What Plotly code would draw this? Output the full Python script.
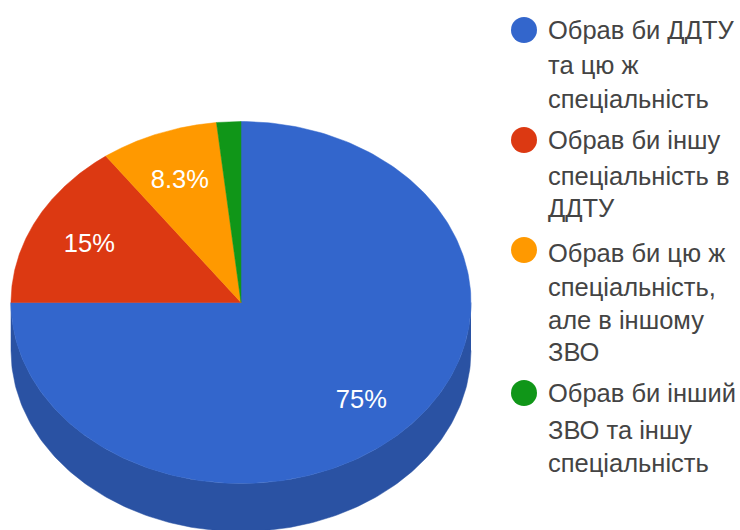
import numpy as np
import plotly.graph_objects as go

# Data
categories = ["Обрав би ДДТУ", "Обрав би іншу", "Обрав би цю ж", "Обрав би інший"]
values = [75, 15, 8.3, 1.7]
slice_labels = ["75%", "15%", "8.3%", ""]
legend_lines = [
    ["Обрав би ДДТУ", "та цю ж", "спеціальність"],
    ["Обрав би іншу", "спеціальність в", "ДДТУ"],
    ["Обрав би цю ж", "спеціальність,", "але в іншому", "ЗВО"],
    ["Обрав би інший", "ЗВО та іншу", "спеціальність"],
]

# Style
colors = ["#3366cc", "#dc3912", "#ff9900", "#109618"]
side_colors = ["#2a52a3", "#a82c0e", "#c47500", "#0c7012"]
CX, CY, RX, RY, DEPTH = 241, 302.5, 230, 181, 48
LEGEND_LINE_Y = [[30, 65, 99], [140, 176, 208], [253, 287, 320, 352], [393, 430, 463]]
LEGEND_DOT_Y = [30, 140, 250, 393]
LEGEND_DOT_X, LEGEND_TEXT_X = 524, 548
LABEL_R = 0.74
LABEL_DY = 4
FONT_SIZE = 25.5

fractions = np.array(values) / sum(values)
ends = np.cumsum(fractions) * 2 * np.pi
starts = ends - fractions * 2 * np.pi


def ex(a):
    return CX + RX * np.sin(a)


def ey(a):
    return CY - RY * np.cos(a)


fig = go.Figure()

# Side wall (only the front half of the ellipse is visible)
for s, e, c in zip(starts, ends, side_colors):
    lo, hi = max(s, np.pi / 2), min(e, 3 * np.pi / 2)
    if hi <= lo:
        continue
    a = np.linspace(lo, hi, 180)
    xs = np.concatenate([ex(a), ex(a)[::-1]])
    ys = np.concatenate([ey(a), (ey(a) + DEPTH)[::-1]])
    fig.add_trace(go.Scatter(x=xs, y=ys, mode="lines", fill="toself", fillcolor=c,
                             line=dict(color=c, width=0.5), hoverinfo="skip", showlegend=False))

# Top surface
for s, e, c, name in zip(starts, ends, colors, categories):
    a = np.linspace(s, e, 240)
    xs = np.concatenate([[CX], ex(a), [CX]])
    ys = np.concatenate([[CY], ey(a), [CY]])
    fig.add_trace(go.Scatter(x=xs, y=ys, mode="lines", fill="toself", fillcolor=c,
                             line=dict(color=c, width=0.5), name=name, hoverinfo="name", showlegend=False))

# Slice percentage labels
mid = (starts + ends) / 2
fig.add_trace(go.Scatter(
    x=CX + RX * LABEL_R * np.sin(mid), y=CY - RY * LABEL_R * np.cos(mid) + LABEL_DY,
    mode="text", text=slice_labels,
    textfont=dict(family="Liberation Sans", size=FONT_SIZE, color="#ffffff"),
    textposition="middle center", hoverinfo="skip", showlegend=False))

# Legend dots
fig.add_trace(go.Scatter(
    x=[LEGEND_DOT_X] * len(LEGEND_DOT_Y), y=LEGEND_DOT_Y, mode="markers",
    marker=dict(size=26, color=colors, line=dict(width=0)),
    hoverinfo="skip", showlegend=False))

# Legend text
for lines, ys in zip(legend_lines, LEGEND_LINE_Y):
    for t, y in zip(lines, ys):
        fig.add_annotation(x=LEGEND_TEXT_X, y=y, text=t, showarrow=False, xanchor="left",
                           yanchor="middle", borderpad=0, borderwidth=0,
                           font=dict(family="Liberation Sans", size=FONT_SIZE, color="#444444"))

fig.update_layout(
    width=740, height=530, margin=dict(l=0, r=0, t=0, b=0),
    paper_bgcolor="#ffffff", plot_bgcolor="#ffffff",
    xaxis=dict(range=[0, 740], visible=False, fixedrange=True),
    yaxis=dict(range=[530, 0], visible=False, fixedrange=True),
)
fig.write_html("out.html", config={"displayModeBar": False},
               post_script="document.body.style.margin='0';document.documentElement.style.overflow='hidden';")
